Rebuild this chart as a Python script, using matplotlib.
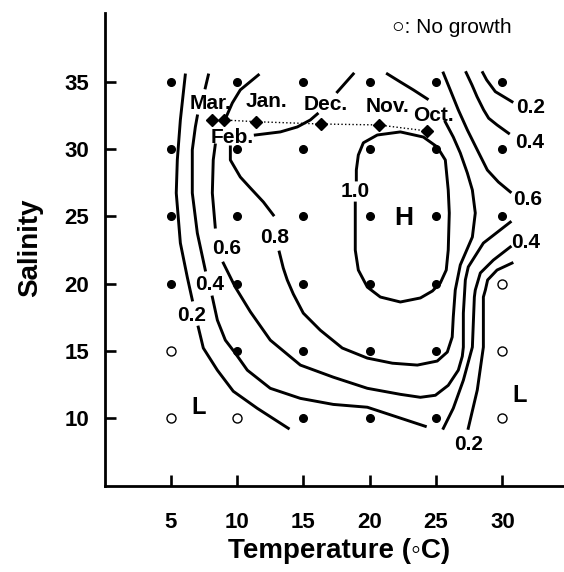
import numpy as np
import matplotlib
matplotlib.use("Agg")
import matplotlib.pyplot as plt

plt.rcParams['font.family'] = ['Liberation Sans', 'DejaVu Sans']
plt.rcParams['font.weight'] = 'bold'
plt.rcParams['axes.labelweight'] = 'bold'

nan = np.nan

# culture conditions with growth (temperature, salinity)
growth_temp = [5, 5, 5, 5, 10, 10, 10, 10, 10, 15, 15, 15, 15, 15, 15,
               20, 20, 20, 20, 20, 20, 25, 25, 25, 25, 25, 25, 30, 30, 30]
growth_sal = [20, 25, 30, 35, 15, 20, 25, 30, 35, 10, 15, 20, 25, 30, 35,
              10, 15, 20, 25, 30, 35, 10, 15, 20, 25, 30, 35, 25, 30, 35]

# no growth
nogrowth_temp = [5, 5, 10, 30, 30, 30]
nogrowth_sal = [10, 15, 10, 10, 15, 20]

# monthly field conditions
month_names = ['Oct.', 'Nov.', 'Dec.', 'Jan.', 'Feb.', 'Mar.']
month_temp = [24.32, 20.67, 16.33, 11.45, 8.98, 8.10]
month_sal = [31.37, 31.82, 31.89, 32.06, 32.19, 32.19]

# hand drawn isolines (nan = gap for a label)
c02_left_t = [6.09, 5.72, 5.49, 5.41, 5.72, 6.24, 6.62, nan, 7.07, 7.45, 8.51, 9.71, 11.52, 13.86]
c02_left_s = [35.54, 32.19, 29.21, 26.75, 23.02, 20.49, 18.78, nan, 16.76, 15.20, 13.55, 11.98, 10.71, 9.22]

c04_left_t = [7.83, 7.60, nan, 7.0, 6.85, 6.62, 6.62, 7.00, 7.60, nan, 8.13, 8.51, 9.11, 9.86,
              10.77, 12.50, 14.77, 17.25, 19.82, 24.19]
c04_left_s = [35.54, 34.58, nan, 32.49, 31.67, 29.96, 26.75, 23.76, 21.01, nan, 19.0, 17.28, 15.79, 14.82,
              13.55, 12.20, 11.45, 11.0, 10.79, 9.37]

c06_main_t = [8.35, 8.20, 8.13, 8.35, nan, 8.96, 9.86, 11.0, 12.50, 14.77, 17.25, 19.82, 22.31, 23.82,
              24.95, 25.92, 26.68, 26.98, 27.06, 27.06, 27.21, 27.43, 28.57, 30.60]
c06_main_s = [30.33, 29.21, 26.75, 24.21, nan, 21.53, 19.74, 17.9, 15.79, 13.93, 13.03, 12.20, 11.75, 11.53,
              11.68, 12.42, 13.55, 14.58, 15.27, 17.80, 20.27, 21.24, 23.02, 24.58]

c06_top_t = [25.55, 26.07, 26.68, 27.36, 28.11, 28.87, 29.70, 30.60]
c06_top_s = [35.69, 34.43, 32.94, 31.45, 29.96, 28.46, 27.57, 26.83]

c04_top_t = [27.27, 27.71, 28.09, 28.59, 28.97, 29.60, 30.47]
c04_top_s = [35.72, 34.80, 33.93, 32.94, 32.32, 31.82, 31.20]

c04_right_t = [30.60, 29.32, 28.34, 27.96, 27.89, 27.74, 27.06, 26.30, 25.55]
c04_right_s = [22.73, 21.75, 20.79, 19.52, 19.0, 15.27, 12.80, 10.71, 9.22]

c02_top_t = [28.52, 28.82, 29.47, 30.73]
c02_top_s = [35.72, 35.17, 34.30, 33.55]

c02_right_t = [30.73, 29.60, 28.89, 28.72, 28.57, 28.57, 28.11, 27.43]
c02_right_s = [21.53, 21.01, 20.27, 19.52, 19.0, 15.27, 12.07, 9.22]

c08_main_t = [9.49, 9.49, 10.24, 11.0, 11.98, 12.73, nan, 13.18, 13.48, 13.78, 14.24, 14.99, 16.27,
              17.93, 19.82, 21.71, 23.59, 25.09, 25.85, 26.22, 26.30, 26.45, 26.83, 27.74, 27.96,
              27.74, 27.36, 26.83, 26.30, 25.70, nan, 24.34, 23.29, 22.31, 21.33]
c08_main_s = [30.18, 29.21, 27.94, 27.12, 26.08, 25.11, nan, 22.35, 21.16, 20.27, 19.22, 17.80, 16.53,
              15.20, 14.45, 14.07, 13.93, 14.23, 14.90, 16.02, 17.51, 19.52, 21.39, 23.47, 25.26,
              26.97, 28.24, 29.73, 30.92, 32.04, nan, 33.76, 34.43, 35.02, 35.62]

c_mar_t = [9.04, 9.64, 10.24, 11.60]
c_mar_s = [32.11, 33.46, 34.43, 35.54]

c_dec_t = [11.37, 13.26, 14.54, 15.52, 16.05, nan, 17.56, 18.76]
c_dec_s = [31.07, 31.30, 31.67, 32.19, 32.64, nan, 34.28, 35.62]

c10_t = [18.91, 18.91, 19.14, 19.82, 20.80, 22.31, 23.82, 24.73, 25.32, 25.77, 25.92, 26.00,
         25.92, 25.70, 25.09, 24.04, 22.31, 20.57, 19.52, 19.14, 18.99, 18.99]
c10_s = [26.00, 22.50, 21.01, 19.74, 19.0, 18.63, 18.93, 19.45, 20.04, 21.01, 22.50, 25.26,
         26.97, 29.21, 30.18, 30.92, 31.30, 31.07, 30.49, 29.58, 28.46, 27.72]

isolines = [(c02_left_t, c02_left_s), (c04_left_t, c04_left_s), (c06_main_t, c06_main_s),
            (c06_top_t, c06_top_s), (c04_top_t, c04_top_s), (c04_right_t, c04_right_s),
            (c02_top_t, c02_top_s), (c02_right_t, c02_right_s), (c08_main_t, c08_main_s),
            (c_mar_t, c_mar_s), (c_dec_t, c_dec_s), (c10_t, c10_s)]

fig = plt.figure(figsize=(5.64, 5.72), dpi=100)
ax = fig.add_axes([0.1853, 0.1503, 0.8147, 0.827])

for t, s in isolines:
    ax.plot(t, s, color='k', lw=2.1, solid_joinstyle='round', zorder=2)

# labels on the isolines
line_labels = [('0.2', 6.55, 17.66), ('0.4', 7.90, 19.90), ('0.6', 9.19, 22.65),
               ('0.8', 12.81, 23.47), ('1.0', 18.91, 26.83), ('0.2', 32.11, 33.12),
               ('0.4', 32.03, 30.48), ('0.6', 31.88, 26.30), ('0.4', 31.73, 23.03),
               ('0.2', 27.43, 8.05)]
for txt, x, y in line_labels:
    ax.text(x, y, txt, fontsize=15, ha='center', va='center')

# sampling points
ax.plot(growth_temp, growth_sal, 'o', color='k', ms=5.5, zorder=4)
ax.plot(nogrowth_temp, nogrowth_sal, 'o', mfc='white', mec='k', mew=1, ms=6.5, zorder=4)

# monthly track
ax.plot(month_temp, month_sal, ':', color='k', lw=1, zorder=3)
ax.plot(month_temp, month_sal, 'D', color='k', ms=6, zorder=5)
month_pos = {'Mar.': (7.99, 33.38), 'Feb.': (9.64, 30.92), 'Jan.': (12.2, 33.53),
             'Dec.': (16.65, 33.31), 'Nov.': (21.33, 33.16), 'Oct.': (24.79, 32.56)}
for m in month_names:
    ax.text(month_pos[m][0], month_pos[m][1], m, fontsize=15, ha='center', va='center')

ax.text(22.53, 24.89, 'H', fontsize=19, ha='center', va='center')
ax.text(7.07, 10.80, 'L', fontsize=17, ha='center', va='center')
ax.text(31.28, 11.64, 'L', fontsize=17, ha='center', va='center')
ax.text(26.2, 39.05, '○: No growth', fontsize=15, fontweight='normal', ha='center', va='center')

ax.set_xlim(0, 34.65)
ax.set_ylim(4.92, 40.16)
ax.set_xticks([5, 10, 15, 20, 25, 30])
ax.set_yticks([10, 15, 20, 25, 30, 35])
ax.spines['top'].set_visible(False)
ax.spines['right'].set_visible(False)
ax.spines['left'].set_linewidth(2.0)
ax.spines['bottom'].set_linewidth(2.0)
ax.tick_params(direction='in', length=7.9, width=1.9, labelsize=16)
ax.tick_params(axis='x', pad=19)
ax.tick_params(axis='y', pad=11)

ax.set_xlabel('Temperature (◦C)', fontsize=20, fontweight='bold')
ax.set_ylabel('Salinity', fontsize=20, fontweight='bold')
ax.xaxis.label.set_va('center')
ax.yaxis.label.set_va('center')
ax.xaxis.set_label_coords(0.510, -0.137)
ax.yaxis.set_label_coords(-0.162, 0.503)

fig.savefig('out.png', dpi=100)
